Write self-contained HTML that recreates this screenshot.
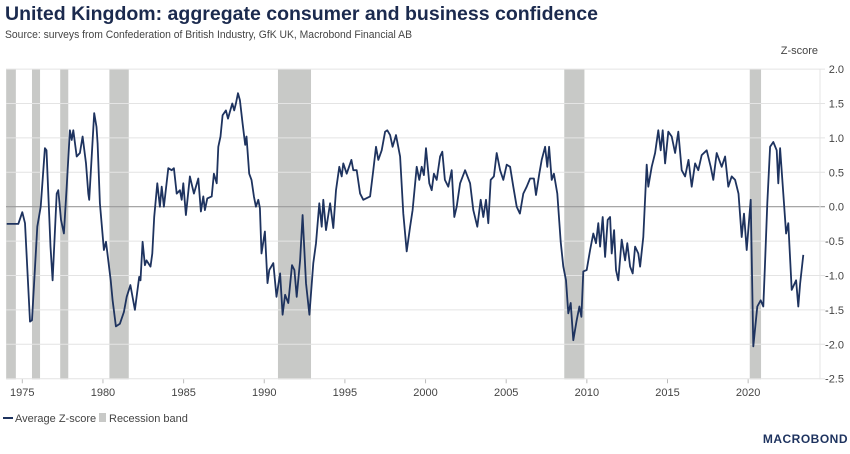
<!DOCTYPE html>
<html><head><meta charset="utf-8"><style>
body{margin:0;background:#fff;width:850px;height:449px;overflow:hidden;font-family:"Liberation Sans",sans-serif}
svg text{font-family:"Liberation Sans",sans-serif}
</style></head><body>
<svg id="chart" width="850" height="449" viewBox="0 0 850 449">
<text x="5" y="20" font-size="19" font-weight="bold" fill="#1b2a4e" textLength="593" lengthAdjust="spacingAndGlyphs">United Kingdom: aggregate consumer and business confidence</text>
<text x="5" y="38" font-size="11" fill="#444" textLength="407" lengthAdjust="spacingAndGlyphs">Source: surveys from Confederation of British Industry, GfK UK, Macrobond Financial AB</text>
<text x="818" y="54" font-size="11" fill="#444" text-anchor="end">Z-score</text>
<g id="bands"></g>
<g id="grid"></g>
<g id="xaxis"></g>
<g id="yaxis"></g>
<path id="line" fill="none" stroke="#1e335f" stroke-width="1.8" stroke-linejoin="round"/>
<g>
<line x1="3" y1="418" x2="13" y2="418" stroke="#1e335f" stroke-width="2"/>
<text x="15" y="422" font-size="11" fill="#444">Average Z-score</text>
<rect x="99" y="413" width="7" height="9" fill="#c8c9c7"/>
<text x="109" y="422" font-size="11" fill="#444">Recession band</text>
</g>
<text x="848" y="443" font-size="12" font-weight="bold" fill="#1e335f" text-anchor="end" letter-spacing="0.5">MACROBOND</text>
</svg>
<script>
const yTicks=[2.0,1.5,1.0,0.5,0.0,-0.5,-1.0,-1.5,-2.0,-2.5];
const xTicks=[1975,1980,1985,1990,1995,2000,2005,2010,2015,2020];
const bandStart=[1974.0,1975.6,1977.35,1980.4,1990.85,2008.6,2020.1];
const bandEnd=[1974.6,1976.1,1977.85,1981.6,1992.9,2009.85,2020.8];
const dates=[1974.03,1974.75,1975.0,1975.17,1975.48,1975.6,1975.93,1976.14,1976.4,1976.5,1976.75,1976.88,1977.13,1977.23,1977.4,1977.58,1977.75,1977.95,1978.06,1978.16,1978.37,1978.57,1978.74,1978.95,1979.09,1979.15,1979.46,1979.6,1979.67,1979.81,1980.06,1980.19,1980.48,1980.6,1980.8,1981.05,1981.3,1981.47,1981.7,1981.98,1982.25,1982.33,1982.46,1982.6,1982.7,1982.95,1983.06,1983.18,1983.37,1983.53,1983.64,1983.78,1984.05,1984.26,1984.4,1984.57,1984.77,1984.88,1984.98,1985.14,1985.39,1985.64,1985.91,1986.07,1986.22,1986.32,1986.47,1986.74,1986.88,1987.05,1987.15,1987.29,1987.42,1987.62,1987.75,1987.87,1988.02,1988.14,1988.24,1988.37,1988.49,1988.66,1988.82,1988.9,1989.07,1989.21,1989.36,1989.48,1989.63,1989.73,1989.83,1990.04,1990.2,1990.31,1990.56,1990.76,1990.98,1991.14,1991.29,1991.49,1991.72,1991.87,1992.01,1992.22,1992.38,1992.59,1992.8,1993.04,1993.21,1993.41,1993.56,1993.66,1993.83,1994.08,1994.28,1994.45,1994.65,1994.8,1994.9,1995.11,1995.4,1995.52,1995.73,1995.94,1996.14,1996.56,1996.76,1996.93,1997.07,1997.28,1997.49,1997.63,1997.8,1997.96,1998.17,1998.42,1998.62,1998.83,1999.04,1999.2,1999.45,1999.61,1999.76,1999.9,2000.03,2000.23,2000.38,2000.52,2000.69,2000.9,2001.04,2001.2,2001.41,2001.62,2001.78,2001.93,2002.14,2002.45,2002.76,2002.96,2003.21,2003.42,2003.58,2003.75,2003.89,2004.04,2004.24,2004.41,2004.62,2004.82,2005.03,2005.24,2005.44,2005.65,2005.85,2006.06,2006.27,2006.48,2006.72,2006.85,2007.05,2007.2,2007.41,2007.55,2007.66,2007.82,2007.96,2008.17,2008.38,2008.54,2008.71,2008.85,2009.0,2009.16,2009.37,2009.54,2009.66,2009.78,2009.99,2010.2,2010.4,2010.57,2010.71,2010.82,2010.98,2011.13,2011.29,2011.44,2011.54,2011.69,2011.81,2011.95,2012.16,2012.37,2012.51,2012.68,2012.84,2012.99,2013.19,2013.3,2013.5,2013.71,2013.81,2014.02,2014.23,2014.43,2014.58,2014.7,2014.85,2015.05,2015.26,2015.47,2015.67,2015.88,2016.09,2016.3,2016.5,2016.71,2016.91,2017.12,2017.43,2017.68,2017.84,2018.05,2018.36,2018.57,2018.77,2018.98,2019.19,2019.4,2019.6,2019.74,2019.91,2020.16,2020.32,2020.57,2020.78,2020.94,2021.04,2021.19,2021.36,2021.56,2021.77,2021.87,2021.98,2022.18,2022.35,2022.49,2022.7,2022.97,2023.11,2023.22,2023.42];
const values=[-0.25,-0.25,-0.08,-0.24,-1.67,-1.65,-0.29,0.0,0.85,0.82,-0.58,-1.07,0.19,0.24,-0.19,-0.39,0.29,1.11,0.97,1.11,0.73,0.78,1.02,0.63,0.19,0.1,1.36,1.16,0.92,0.05,-0.63,-0.51,-1.07,-1.36,-1.74,-1.7,-1.53,-1.31,-1.14,-1.5,-1.02,-1.07,-0.51,-0.85,-0.78,-0.87,-0.68,-0.15,0.34,0.0,0.29,0.0,0.56,0.53,0.56,0.19,0.24,0.1,0.34,-0.12,0.44,0.19,0.41,-0.07,0.15,-0.05,0.12,0.15,0.48,0.34,0.87,1.02,1.33,1.4,1.28,1.38,1.5,1.4,1.5,1.65,1.55,1.21,0.9,1.02,0.48,0.39,0.15,0.0,0.1,-0.02,-0.68,-0.36,-1.11,-0.92,-0.82,-1.31,-0.97,-1.57,-1.28,-1.4,-0.85,-0.92,-1.31,-0.78,-0.12,-1.11,-1.57,-0.82,-0.53,0.05,-0.29,0.1,-0.34,0.05,-0.31,0.24,0.58,0.44,0.63,0.48,0.68,0.53,0.53,0.19,0.1,0.15,0.53,0.87,0.68,0.82,1.09,1.11,1.04,0.87,1.04,0.73,-0.1,-0.65,-0.29,-0.05,0.58,0.39,0.58,0.46,0.85,0.34,0.24,0.48,0.39,0.73,0.8,0.39,0.29,0.53,-0.15,0.0,0.34,0.53,0.34,-0.05,-0.29,0.1,-0.15,0.1,-0.24,0.39,0.44,0.78,0.53,0.39,0.61,0.58,0.29,0.0,-0.1,0.19,0.29,0.41,0.41,0.17,0.48,0.68,0.87,0.58,0.87,0.39,0.48,0.19,-0.51,-0.87,-1.07,-1.55,-1.4,-1.94,-1.65,-1.45,-1.6,-0.94,-0.92,-0.63,-0.39,-0.53,-0.24,-0.58,-0.15,-0.73,-0.19,-0.15,-0.68,-0.34,-0.92,-1.07,-0.48,-0.78,-0.53,-0.87,-0.97,-0.58,-0.68,-0.87,-0.44,0.61,0.29,0.58,0.78,1.11,0.82,1.11,0.63,1.09,1.02,0.78,1.09,0.53,0.44,0.68,0.29,0.63,0.53,0.75,0.82,0.58,0.39,0.78,0.58,0.73,0.29,0.44,0.39,0.19,-0.44,-0.1,-0.63,0.1,-2.03,-1.45,-1.36,-1.45,-0.87,0.05,0.87,0.94,0.82,0.34,0.85,0.19,-0.39,-0.24,-1.21,-1.07,-1.45,-1.12,-0.7];
const NS='http://www.w3.org/2000/svg';
const L=6,R=820,T=69.3,B=379.3;
function X(yr){return 22.3+(yr-1975)*16.13;}
function Y(v){return 206.7-v*68.8;}
const bands=document.getElementById('bands');
for(let i=0;i<bandStart.length;i++){
 const r=document.createElementNS(NS,'rect');
 r.setAttribute('x',X(bandStart[i]));r.setAttribute('y',T);
 r.setAttribute('width',X(bandEnd[i])-X(bandStart[i]));r.setAttribute('height',B-T);
 r.setAttribute('fill','#c8c9c7');
 
 
 bands.appendChild(r);
}
const grid=document.getElementById('grid'),ya=document.getElementById('yaxis'),xa=document.getElementById('xaxis');
yTicks.forEach(v=>{
 const l=document.createElementNS(NS,'line');
 l.setAttribute('x1',L);l.setAttribute('x2',R+5);l.setAttribute('y1',Y(v));l.setAttribute('y2',Y(v));
 l.setAttribute('stroke',v===0?'#9a9a9a':'#e4e4e4');l.setAttribute('stroke-width',v===0?1.2:1);
 
 
 grid.appendChild(l);
 const t=document.createElementNS(NS,'text');
 t.setAttribute('x',844);t.setAttribute('y',Y(v)+4);t.setAttribute('text-anchor','end');
 t.setAttribute('font-size','11');t.setAttribute('fill','#444');
 t.textContent=v.toFixed(1);
 
 
 ya.appendChild(t);
});
const ax=document.createElementNS(NS,'line');
ax.setAttribute('x1',R);ax.setAttribute('x2',R);ax.setAttribute('y1',T);ax.setAttribute('y2',B);ax.setAttribute('stroke','#e4e4e4');


grid.appendChild(ax);
xTicks.forEach(yr=>{
 const k=document.createElementNS(NS,'line');
 k.setAttribute('x1',X(yr));k.setAttribute('x2',X(yr));k.setAttribute('y1',B);k.setAttribute('y2',B+4);k.setAttribute('stroke','#bbb');
 
 
 xa.appendChild(k);
 const t=document.createElementNS(NS,'text');
 t.setAttribute('x',X(yr));t.setAttribute('y',396);t.setAttribute('text-anchor','middle');
 t.setAttribute('font-size','11');t.setAttribute('fill','#444');
 t.textContent=yr;
 
 
 xa.appendChild(t);
});
let d='';
for(let i=0;i<dates.length;i++){d+=(i?'L':'M')+X(dates[i]).toFixed(1)+','+Y(values[i]).toFixed(1);}
document.getElementById('line').setAttribute('d',d);
</script>
</body></html>
